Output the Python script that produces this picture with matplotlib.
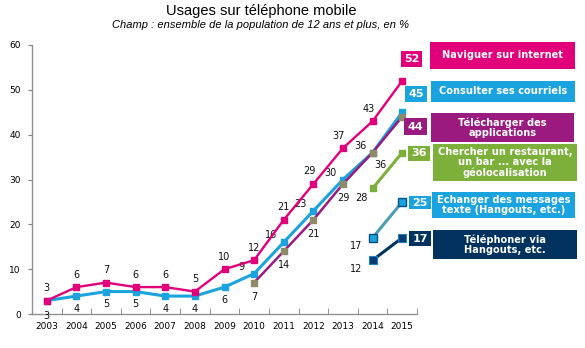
import matplotlib
matplotlib.use("Agg")
import matplotlib.pyplot as plt
from matplotlib.patches import Rectangle

years = ["2003", "2004", "2005", "2006", "2007", "2008", "2009",
         "2010", "2011", "2012", "2013", "2014", "2015"]
internet = [3, 6, 7, 6, 6, 5, 10, 12, 21, 29, 37, 43, 52]
courriels = [3, 4, 5, 5, 4, 4, 6, 9, 16, 23, 30, 36, 45]
applis = [None] * 7 + [7, 14, 21, 29, 36, 44]
geoloc = [None] * 11 + [28, 36]
messages = [None] * 11 + [17, 25]
telephoner = [None] * 11 + [12, 17]

names = ["Naviguer sur internet", "Consulter ses courriels",
         "Télécharger des\napplications",
         "Chercher un restaurant,\nun bar ... avec la\ngéolocalisation",
         "Echanger des messages\ntexte (Hangouts, etc.)",
         "Téléphoner via\nHangouts, etc."]

PINK = "#E2007A"
BLUE = "#1AA3DE"
PURPLE = "#9A1A80"
GREEN = "#7DB03A"
TEAL = "#4A9DB8"
NAVY = "#00325F"

fig = plt.figure(figsize=(5.85, 3.48), dpi=100)
ax = fig.add_axes([32/585, 1-314/348, (417-32)/585, (314-45)/348])

x = list(range(len(years)))

def series(vals):
    xs = [i for i, v in zip(x, vals) if v is not None]
    ys = [v for v in vals if v is not None]
    return xs, ys

xs, ys = series(courriels)
ax.plot(xs, ys, color=BLUE, lw=2.2, marker="s", ms=4.5, mfc=BLUE, mec=BLUE, zorder=3)
xs, ys = series(applis)
ax.plot(xs, ys, color=PURPLE, lw=1.8, marker="s", ms=3.8, mfc="#8E8A6A", mec="#8E8A6A", zorder=4)
xs, ys = series(internet)
ax.plot(xs, ys, color=PINK, lw=1.7, marker="s", ms=4, mfc=PINK, mec=PINK, zorder=5)
xs, ys = series(geoloc)
ax.plot(xs, ys, color=GREEN, lw=2.2, marker="s", ms=5, mfc=GREEN, mec=GREEN, zorder=3)
xs, ys = series(messages)
ax.plot(xs, ys, color=TEAL, lw=2.2, marker="s", ms=5.5, mfc=BLUE, mec="#0A4F80", mew=1, zorder=3)
xs, ys = series(telephoner)
ax.plot(xs, ys, color=NAVY, lw=2.2, marker="s", ms=5.5, mfc="#0A3A70", mec="#1A80C0", mew=0.8, zorder=3)

ax.set_xlim(-0.5, len(years) - 0.5)
ax.set_ylim(0, 60)
ax.set_yticks(range(0, 61, 10))
ax.set_xticks(x)
ax.set_xticklabels(years)
ax.set_xticks([i - 0.5 for i in range(len(years) + 1)], minor=True)
ax.tick_params(axis="x", which="major", length=0, labelsize=6.5, pad=6)
ax.tick_params(axis="x", which="minor", length=4, direction="in", color="#808080")
ax.tick_params(axis="y", length=3, labelsize=6.5, color="#808080", pad=5)
for s in ["top", "right"]:
    ax.spines[s].set_visible(False)
for s in ["left", "bottom"]:
    ax.spines[s].set_color("#909090")
    ax.spines[s].set_linewidth(1)

fs = 7
def lab(i, v, dx, dy, ha="center"):
    ax.annotate(str(v), (i, v), xytext=(dx, dy), textcoords="offset points",
                ha=ha, va="center", fontsize=fs, color="#111111")

for i, v in enumerate(internet):
    if i == len(internet) - 1:
        continue
    dx = -3 if i >= 9 else 0
    lab(i, v, dx, 9)
for i, v in enumerate(courriels):
    if i == len(courriels) - 1:
        continue
    if i <= 6:
        lab(i, v, 0, -9 if i > 0 else -11)
    else:
        lab(i, v, -9, 5)
for i, v in enumerate(applis):
    if v is None or i == len(applis) - 1:
        continue
    if i == 11:
        lab(i, v, 6, -9)
    else:
        lab(i, v, 0, -10)
lab(11, geoloc[11], -8, -7)
lab(11, messages[11], -12, -6)
lab(11, telephoner[11], -12, -6)

finals = [internet[-1], courriels[-1], applis[-1], geoloc[-1], messages[-1], telephoner[-1]]
colors = [PINK, BLUE, PURPLE, GREEN, BLUE, NAVY]
numboxes = [(401, 51, 422, 67), (405, 86, 427, 102), (404, 118, 427, 135),
            (408, 146, 430, 161), (409, 196, 431, 209), (409, 231, 431, 246)]
txtboxes = [(430, 42, 575, 69), (431, 81, 575, 102), (431, 113, 574, 142),
            (433, 144, 577, 181), (432, 192, 575, 218), (433, 230, 577, 259)]
W, H = 585, 348
for val, name, c, nb, tb in zip(finals, names, colors, numboxes, txtboxes):
    for (x0, y0, x1, y1), t, sz in [(nb, str(val), 8), (tb, name, 7.1)]:
        fig.patches.append(Rectangle((x0/W, 1-y1/H), (x1-x0)/W, (y1-y0)/H,
                                     transform=fig.transFigure, color=c, lw=0))
        fig.text((x0+x1)/2/W, 1-(y0+y1)/2/H, t, ha="center", va="center",
                 color="white", fontsize=sz, fontweight="bold",
                 family="DejaVu Sans", linespacing=1.05)

fig.text(261/W, 1-11/H, "Usages sur téléphone mobile", ha="center", va="center",
         fontsize=10.5, family="Liberation Sans")
fig.text(261/W, 1-25/H, "Champ : ensemble de la population de 12 ans et plus, en %",
         ha="center", va="center", fontsize=8, style="italic", family="Liberation Sans")

fig.savefig("out.png", dpi=100)
